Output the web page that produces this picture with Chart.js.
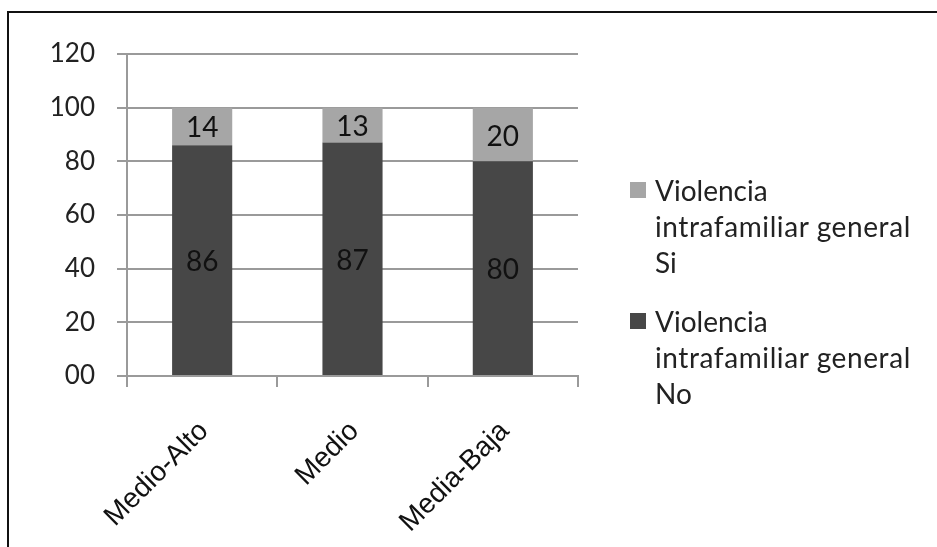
<!DOCTYPE html>
<html>
<head>
<meta charset="utf-8">
<script src="https://cdn.jsdelivr.net/npm/chart.js@4"></script>
<style>
  html, body { margin: 0; padding: 0; background: #fff; }
  #wrap { position: relative; width: 937px; height: 547px; overflow: hidden; }
  #frame { position: absolute; left: 7px; top: 11px; width: 940px; height: 550px;
           border-left: 2px solid #111; border-top: 2px solid #111; }
  #legend { position: absolute; left: 630px; top: 172px; font-family: Lato, sans-serif;
            font-size: 28px; color: #222; line-height: 36px; }
  .item { position: relative; padding-left: 25px; margin-bottom: 23px; white-space: nowrap; }
  .item div:nth-of-type(2) { letter-spacing: 0.6px; }
  .box { position: absolute; left: 0; top: 10px; width: 16px; height: 16px; }
</style>
</head>
<body>
<div id="wrap">
  <canvas id="barChart" width="937" height="547"></canvas>
  <div id="frame"></div>
  <div id="legend"></div>
</div>
<script>
'use strict';

// data
const categories = ['Medio-Alto', 'Medio', 'Media-Baja'];
const noValues = [86, 87, 80];
const siValues = [14, 13, 20];
const seriesNames = [
  ['Violencia', 'intrafamiliar general', 'No'],
  ['Violencia', 'intrafamiliar general', 'Si']
];
const yTicks = [0, 20, 40, 60, 80, 100, 120];

const gridGray = '#9a9a9a';
const ctx = document.getElementById('barChart').getContext('2d');

// write the numbers inside each bar segment
const barLabels = {
  id: 'barLabels',
  afterDatasetsDraw(chart) {
    const c = chart.ctx;
    c.save();
    c.font = '28px Lato, sans-serif';
    c.fillStyle = '#111';
    c.textAlign = 'center';
    c.textBaseline = 'middle';
    chart.data.datasets.forEach((ds, i) => {
      chart.getDatasetMeta(i).data.forEach((bar, j) => {
        const mid = (bar.y + bar.base) / 2;
        c.fillText(ds.data[j], bar.x, mid + 2);
      });
    });
    c.restore();
  }
};

const chart = new Chart(ctx, {
  type: 'bar',
  data: {
    labels: categories,
    datasets: [{
      label: seriesNames[0].join(' '),
      data: noValues,
      backgroundColor: '#474747',
      barPercentage: 0.4,
      categoryPercentage: 1
    }, {
      label: seriesNames[1].join(' '),
      data: siValues,
      backgroundColor: '#a6a6a6',
      barPercentage: 0.4,
      categoryPercentage: 1
    }]
  },
  options: {
    responsive: false,
    animation: false,
    layout: { padding: { top: 54, right: 359, bottom: 0, left: 0 } },
    plugins: {
      legend: { display: false },
      tooltip: { enabled: false }
    },
    scales: {
      x: {
        stacked: true,
        offset: true,
        grid: {
          offset: true,
          drawOnChartArea: false,
          color: gridGray,
          lineWidth: 2,
          tickLength: 11
        },
        border: { color: gridGray, width: 2 },
        ticks: {
          minRotation: 45,
          maxRotation: 45,
          labelOffset: 2,
          padding: 28,
          color: '#111',
          font: { family: '"Liberation Sans", Arial, sans-serif', size: 28 }
        },
        afterFit(scale) { scale.height = 171; }
      },
      y: {
        stacked: true,
        min: 0,
        max: 120,
        afterBuildTicks(scale) { scale.ticks = yTicks.map(v => ({ value: v })); },
        grid: { color: gridGray, lineWidth: 2, tickLength: 10 },
        border: { color: gridGray, width: 2 },
        ticks: {
          padding: 22,
          color: '#222',
          font: { family: 'Lato, sans-serif', size: 26 },
          callback: v => (v === 0 ? '00' : v)
        },
        afterFit(scale) { scale.width = 127; }
      }
    }
  },
  plugins: [barLabels]
});

// legend on the right, Si first like the original
const legend = document.getElementById('legend');
chart.data.datasets.slice().reverse().forEach((ds, k) => {
  const idx = chart.data.datasets.length - 1 - k;
  const item = document.createElement('div');
  item.className = 'item';
  const box = document.createElement('span');
  box.className = 'box';
  box.style.background = ds.backgroundColor;
  item.appendChild(box);
  seriesNames[idx].forEach(line => {
    const d = document.createElement('div');
    d.textContent = line;
    item.appendChild(d);
  });
  legend.appendChild(item);
});
</script>
</body>
</html>
